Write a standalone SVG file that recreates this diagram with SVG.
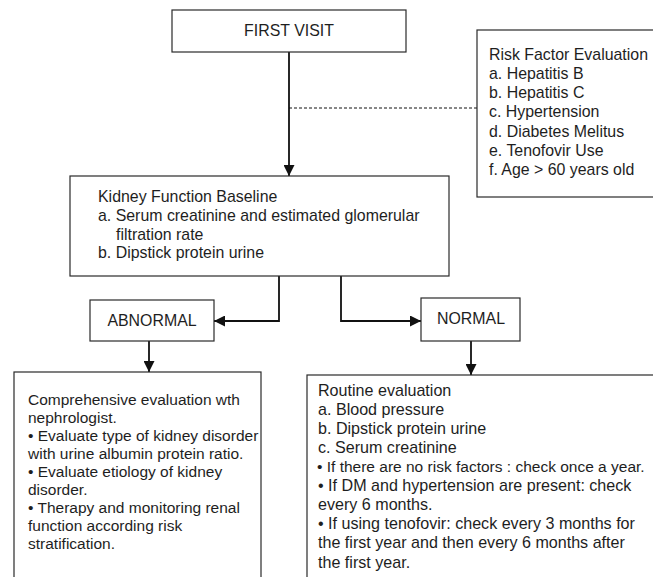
<svg xmlns="http://www.w3.org/2000/svg" width="653" height="577" viewBox="0 0 653 577">
<style>
  .box { fill: #fff; stroke: #2a2a2a; stroke-width: 1.2; }
  .t { font-family: "Liberation Sans", Arial, sans-serif; font-size: 15.9px; fill: #1e1e1e; }
  .s { font-size: 15.5px; }
  .r { font-size: 16.1px; }
  .r2 { font-size: 15.5px; }
  .tc { text-anchor: middle; }
  .conn { fill: none; stroke: #111; stroke-width: 1.8; }
  .dash { fill: none; stroke: #111; stroke-width: 1; stroke-dasharray: 3 2; }
</style>
<defs>
  <marker id="ah" markerUnits="userSpaceOnUse" markerWidth="11" markerHeight="11" refX="10" refY="5" orient="auto" viewBox="0 0 10 10">
    <path d="M0,0 L10,5 L0,10 z" fill="#111"/>
  </marker>
</defs>
<rect width="653" height="577" fill="#fff"/>

<g id="connectors">
  <path class="conn" d="M289,52 V176" marker-end="url(#ah)"/>
  <path class="dash" d="M289,108 H477"/>
  <path class="conn" d="M279,276 V321 H214" marker-end="url(#ah)"/>
  <path class="conn" d="M341,276 V321 H421" marker-end="url(#ah)"/>
  <path class="conn" d="M149,341 V372" marker-end="url(#ah)"/>
  <path class="conn" d="M471,341 V375" marker-end="url(#ah)"/>
</g>

<g id="first-visit">
  <rect class="box" x="172" y="10" width="234" height="42"/>
  <text class="t tc" x="289" y="36">FIRST VISIT</text>
</g>

<g id="risk-factors">
  <rect class="box" x="477" y="30" width="190" height="167"/>
  <text class="t" x="489" y="60">Risk Factor Evaluation</text>
  <text class="t" x="489" y="79">a. Hepatitis B</text>
  <text class="t" x="489" y="98">b. Hepatitis C</text>
  <text class="t" x="489" y="117">c. Hypertension</text>
  <text class="t" x="489" y="136.5">d. Diabetes Melitus</text>
  <text class="t" x="489" y="155.5">e. Tenofovir Use</text>
  <text class="t" x="489" y="175">f. Age &gt; 60 years old</text>
</g>

<g id="kidney-baseline">
  <rect class="box" x="70" y="176" width="379" height="100"/>
  <text class="t" x="98" y="202">Kidney Function Baseline</text>
  <text class="t" x="98" y="221">a. Serum creatinine and estimated glomerular</text>
  <text class="t" x="116" y="239.5">filtration rate</text>
  <text class="t" x="98" y="258">b. Dipstick protein urine</text>
</g>

<g id="abnormal">
  <rect class="box" x="90" y="300" width="124" height="41"/>
  <text class="t tc" x="152" y="325.5">ABNORMAL</text>
</g>

<g id="normal">
  <rect class="box" x="421" y="298" width="99" height="43"/>
  <text class="t tc" x="471" y="324">NORMAL</text>
</g>

<g id="comprehensive">
  <rect class="box" x="14" y="372" width="247" height="220"/>
  <text class="t s" x="28" y="405">Comprehensive evaluation wth</text>
  <text class="t s" x="28" y="423">nephrologist.</text>
  <text class="t s" x="28" y="441">• Evaluate type of kidney disorder</text>
  <text class="t s" x="28" y="459">with urine albumin protein ratio.</text>
  <text class="t s" x="28" y="477">• Evaluate etiology of kidney</text>
  <text class="t s" x="28" y="495">disorder.</text>
  <text class="t s" x="28" y="513">• Therapy and monitoring renal</text>
  <text class="t s" x="28" y="531">function according risk</text>
  <text class="t s" x="28" y="549">stratification.</text>
</g>

<g id="routine">
  <rect class="box" x="307" y="375" width="360" height="220"/>
  <text class="t r" x="318" y="395.5">Routine evaluation</text>
  <text class="t r" x="318" y="415">a. Blood pressure</text>
  <text class="t r" x="318" y="434">b. Dipstick protein urine</text>
  <text class="t r" x="318" y="452.5">c. Serum creatinine</text>
  <text class="t r2" x="317" y="472">• If there are no risk factors : check once a year.</text>
  <text class="t r" x="318" y="491">• If DM and hypertension are present: check</text>
  <text class="t r" x="318" y="509.5">every 6 months.</text>
  <text class="t r" x="318" y="528.5">• If using tenofovir: check every 3 months for</text>
  <text class="t r" x="318" y="548">the first year and then every 6 months after</text>
  <text class="t r" x="318" y="567.5">the first year.</text>
</g>
</svg>
